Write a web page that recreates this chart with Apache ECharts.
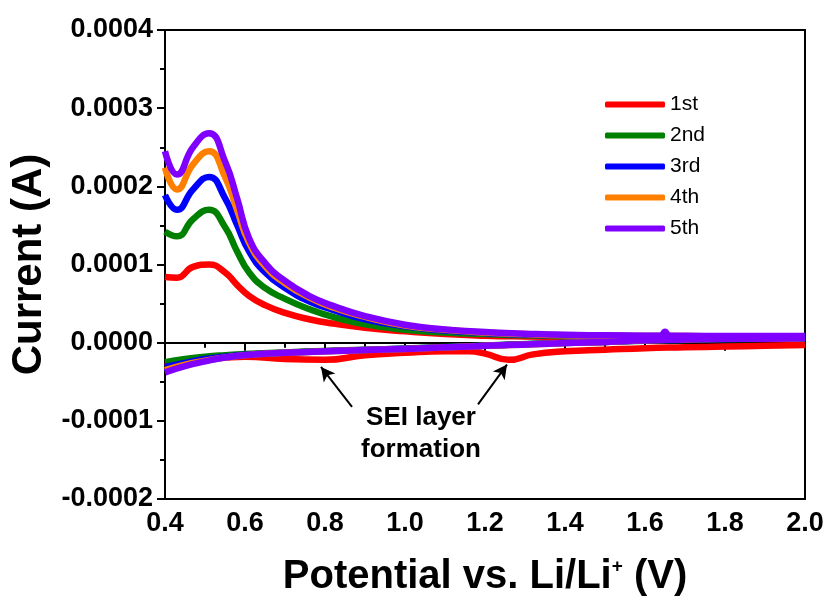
<!DOCTYPE html>
<html>
<head>
<meta charset="utf-8">
<script src="https://cdn.jsdelivr.net/npm/echarts@6/dist/echarts.min.js"></script>
<style>
  html, body { margin: 0; padding: 0; background: #fff; }
  #main { width: 830px; height: 599px; }
</style>
</head>
<body>
<div id="main"></div>
<script>
// values in units of 1e-4 A
const SCALE = 1e-4;

const cycles = ["1st", "2nd", "3rd", "4th", "5th"];
const colors = ["#ff0000", "#008000", "#0000ff", "#ff8000", "#8000ff"];

// anodic branch potentials (V)
const upperPotential = [0.40, 0.43, 0.47, 0.51, 0.55, 0.58, 0.61, 0.65, 0.70, 0.76, 0.82, 0.90,
  1.00, 1.10, 1.20, 1.30, 1.40, 1.50, 1.60, 1.64, 1.65, 1.66, 1.70, 1.80, 1.90, 2.00];

const upper1st = [0.84, 0.83, 0.97, 1.00, 0.90, 0.74, 0.60, 0.48, 0.38, 0.30, 0.245, 0.19,
  0.145, 0.11, 0.09, 0.08, 0.075, 0.07, 0.07, 0.07, 0.07, 0.07, 0.065, 0.065, 0.06, 0.06];
const upper2nd = [1.42, 1.36, 1.58, 1.70, 1.48, 1.17, 0.90, 0.70, 0.56, 0.43, 0.33, 0.235,
  0.165, 0.13, 0.11, 0.095, 0.09, 0.085, 0.08, 0.08, 0.08, 0.08, 0.08, 0.075, 0.075, 0.07];
const upper3rd = [1.89, 1.70, 1.96, 2.12, 1.85, 1.51, 1.17, 0.90, 0.70, 0.53, 0.42, 0.30,
  0.21, 0.155, 0.125, 0.105, 0.095, 0.09, 0.085, 0.085, 0.085, 0.085, 0.08, 0.08, 0.08, 0.075];
const upper4th = [2.24, 1.96, 2.28, 2.45, 2.12, 1.70, 1.28, 0.98, 0.76, 0.58, 0.45, 0.33,
  0.22, 0.165, 0.13, 0.11, 0.095, 0.09, 0.085, 0.085, 0.085, 0.085, 0.085, 0.08, 0.08, 0.08];
const upper5th = [2.45, 2.15, 2.50, 2.68, 2.32, 1.85, 1.34, 1.02, 0.79, 0.60, 0.47, 0.34,
  0.23, 0.17, 0.135, 0.115, 0.10, 0.095, 0.09, 0.088, 0.14, 0.088, 0.088, 0.085, 0.085, 0.085];

// cathodic branch potentials (V)
const lowerPotential = [0.40, 0.45, 0.50, 0.55, 0.60, 0.70, 0.80, 0.90, 1.00, 1.10, 1.16,
  1.20, 1.26, 1.32, 1.40, 1.50, 1.60, 1.70, 1.80, 1.90, 2.00];

const lower1st = [-0.30, -0.25, -0.21, -0.19, -0.18, -0.21, -0.22, -0.16, -0.13, -0.11, -0.11,
  -0.14, -0.22, -0.15, -0.11, -0.09, -0.07, -0.06, -0.05, -0.04, -0.03];
const lower2nd = [-0.25, -0.21, -0.18, -0.16, -0.145, -0.125, -0.105, -0.09, -0.075, -0.055, -0.045,
  -0.035, -0.025, -0.015, 0.0, 0.01, 0.025, 0.035, 0.045, 0.05, 0.055];
const lower3rd = [-0.31, -0.26, -0.21, -0.18, -0.155, -0.13, -0.11, -0.093, -0.078, -0.058, -0.048,
  -0.038, -0.028, -0.018, -0.003, 0.01, 0.028, 0.038, 0.048, 0.05, 0.058];
const lower4th = [-0.35, -0.28, -0.23, -0.19, -0.16, -0.13, -0.11, -0.095, -0.08, -0.06, -0.05,
  -0.04, -0.03, -0.02, -0.005, 0.01, 0.03, 0.04, 0.05, 0.05, 0.06];
const lower5th = [-0.38, -0.30, -0.24, -0.19, -0.16, -0.13, -0.11, -0.095, -0.08, -0.06, -0.05,
  -0.04, -0.03, -0.02, -0.005, 0.01, 0.03, 0.04, 0.05, 0.05, 0.06];

const upperSets = [upper1st, upper2nd, upper3rd, upper4th, upper5th];
const lowerSets = [lower1st, lower2nd, lower3rd, lower4th, lower5th];

// annotation: arrows [from, to] in data coords, label anchor
const arrows = [
  [[0.8675, -0.82], [0.79, -0.31]],
  [[1.1825, -0.79], [1.255, -0.28]],
];
const noteAnchor = [1.04, -1.16];
const noteText = "SEI layer\nformation";

const font = "'Liberation Sans', Arial, sans-serif";

const chartDom = document.getElementById("main");
const myChart = echarts.init(chartDom);

const pairs = (xs, ys) => xs.map((x, i) => [x, ys[i] * SCALE]);

const series = [];
cycles.forEach((name, i) => {
  const base = {
    name: name,
    type: "line",
    smooth: 0.5,
    symbol: "none",
    lineStyle: { width: 6.5, color: colors[i], join: "round" },
    itemStyle: { color: colors[i] },
  };
  series.push(Object.assign({}, base, { data: pairs(upperPotential, upperSets[i]) }));
  series.push(Object.assign({}, base, { data: pairs(lowerPotential, lowerSets[i]) }));
});

// arrows hosted on an empty series
series.push({
  type: "line",
  data: [],
  symbol: "none",
  markLine: {
    silent: true,
    symbol: ["none", "arrow"],
    symbolSize: [11, 14],
    label: { show: false },
    lineStyle: { color: "#000", width: 2, type: "solid" },
    data: arrows.map((a) => [
      { coord: [a[0][0], a[0][1] * SCALE] },
      { coord: [a[1][0], a[1][1] * SCALE] },
    ]),
  },
});

const option = {
  animation: false,
  grid: {
    left: 165,
    right: 25,
    top: 30,
    bottom: 100,
    containLabel: false,
    outerBoundsMode: "none",
    show: true,
    borderColor: "#000",
    borderWidth: 2,
  },
  legend: {
    data: cycles,
    orient: "vertical",
    left: 600,
    top: 89,
    icon: "roundRect",
    itemWidth: 60,
    itemHeight: 6,
    itemGap: 10,
    textStyle: { fontFamily: font, fontSize: 21, color: "#000", lineHeight: 20 },
  },
  xAxis: {
    type: "value",
    min: 0.4,
    max: 2.0,
    interval: 0.2,
    name: "Potential vs. Li/Li{sup|+} (V)",
    nameLocation: "middle",
    nameGap: 58,
    nameTextStyle: {
      fontFamily: font,
      fontSize: 40,
      fontWeight: "bold",
      color: "#000",
      rich: {
        sup: { fontFamily: font, fontSize: 19, fontWeight: "bold", color: "#000", verticalAlign: "top", padding: [0, 0, 19, 0] },
      },
    },
    axisLine: { lineStyle: { color: "#000", width: 2 } },
    axisTick: { length: 8, lineStyle: { color: "#000", width: 2 } },
    minorTick: { show: true, splitNumber: 2, length: 5, lineStyle: { color: "#000", width: 2 } },
    splitLine: { show: false },
    axisLabel: {
      margin: 11,
      fontFamily: font,
      fontSize: 27,
      fontWeight: "bold",
      color: "#000",
      formatter: (v) => v.toFixed(1),
    },
  },
  yAxis: {
    type: "value",
    min: -0.0002,
    max: 0.0004,
    interval: 0.0001,
    name: "Current (A)",
    nameLocation: "middle",
    nameGap: 112,
    nameTextStyle: { fontFamily: font, fontSize: 42, fontWeight: "bold", color: "#000" },
    axisLine: { lineStyle: { color: "#000", width: 2 } },
    axisTick: { length: 8, lineStyle: { color: "#000", width: 2 } },
    minorTick: { show: true, splitNumber: 2, length: 5, lineStyle: { color: "#000", width: 2 } },
    splitLine: { show: false },
    axisLabel: {
      margin: 12,
      fontFamily: font,
      fontSize: 27,
      fontWeight: "bold",
      color: "#000",
      formatter: (v) => v.toFixed(4),
    },
  },
  series: series,
};

myChart.setOption(option);

const anchor = myChart.convertToPixel({ gridIndex: 0 }, [noteAnchor[0], noteAnchor[1] * SCALE]);
myChart.setOption({
  graphic: [{
    type: "text",
    x: anchor[0],
    y: anchor[1],
    style: {
      text: noteText,
      fontFamily: font,
      fontSize: 26,
      fontWeight: "bold",
      fill: "#000",
      align: "center",
      verticalAlign: "middle",
      lineHeight: 32,
    },
  }],
});
</script>
</body>
</html>
